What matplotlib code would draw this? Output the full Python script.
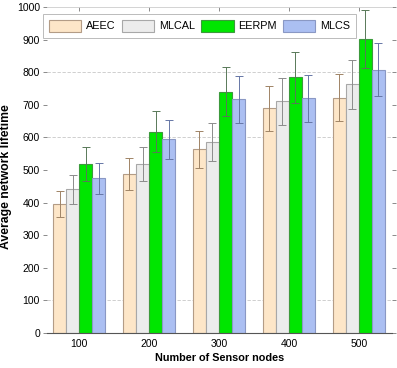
import numpy as np
import matplotlib
matplotlib.use("Agg")
import matplotlib.pyplot as plt

categories = ["100", "200", "300", "400", "500"]
series = ["AEEC", "MLCAL", "EERPM", "MLCS"]
aeec = [396, 487, 564, 690, 722]
mlcal = [441, 518, 586, 711, 763]
eerpm = [518, 618, 740, 785, 902]
mlcs = [474, 594, 717, 720, 808]
aeec_err = [39, 49, 57, 69, 73]
mlcal_err = [44, 53, 57, 72, 75]
eerpm_err = [52, 63, 75, 78, 90]
mlcs_err = [48, 59, 72, 72, 81]
yticks = [0, 100, 200, 300, 400, 500, 600, 700, 800, 900, 1000]
grid_levels = [100, 600, 800]

values = [aeec, mlcal, eerpm, mlcs]
errors = [aeec_err, mlcal_err, eerpm_err, mlcs_err]
fills = ["#fde6c8", "#ececec", "#00e600", "#abbff2"]
edges = ["#b39c86", "#a8a8a8", "#3c9a3c", "#8a98c4"]
ecolors = ["#a08466", "#8c8c8c", "#587858", "#6676a6"]

plt.rcParams['font.family'] = ['Liberation Sans', 'DejaVu Sans']

fig = plt.figure(figsize=(3.97, 3.68), dpi=100)
ax = fig.add_axes([0.118, 0.095, 0.869, 0.886])

x = np.arange(len(categories))
w = 0.186
for i, (v, e) in enumerate(zip(values, errors)):
    pos = x + (i - 1.5) * w
    ax.bar(pos, v, width=w, color=fills[i], edgecolor=edges[i], linewidth=0.8,
           label=series[i], zorder=2)
    ax.errorbar(pos, v, yerr=e, fmt='none', ecolor=ecolors[i], elinewidth=0.7,
                capsize=2.8, capthick=0.7, zorder=3)

for g in grid_levels:
    ax.axhline(g, color='#c8c8c8', lw=0.6, ls=(0, (4, 2)), zorder=1)

ax.set_xlim(-0.46, 4.47)
ax.set_ylim(0, 1000)
ax.set_xticks(x)
ax.set_xticklabels(categories, fontsize=7.5)
ax.set_yticks(yticks)
ax.set_yticklabels([str(t) for t in yticks], fontsize=7.5)

ax.tick_params(axis='x', bottom=False, top=True, direction='in', length=3,
               color='#777777', width=0.6, pad=4)
ax.tick_params(axis='y', left=True, right=True, direction='out', length=3,
               color='#777777', width=0.6, pad=2)

for s in ['left', 'right']:
    ax.spines[s].set_visible(False)
ax.spines['top'].set_color('#cccccc')
ax.spines['top'].set_linewidth(0.6)
ax.spines['bottom'].set_color('#555555')
ax.spines['bottom'].set_linewidth(0.8)

ax.set_xlabel("Number of Sensor nodes", fontsize=7.8, fontweight='bold', labelpad=3)
ax.set_ylabel("Average network lifetime", fontsize=8.8, fontweight='bold')
ax.yaxis.set_label_coords(-0.1, 0.48)

leg = ax.legend(loc='upper left', bbox_to_anchor=(43 / 397, 1 - 14 / 368),
                bbox_transform=fig.transFigure, ncol=4, frameon=True,
                fancybox=False, edgecolor='#bbbbbb', framealpha=1,
                prop={'size': 7.8},
                handlelength=3.0, handleheight=1.3, handletextpad=0.4,
                columnspacing=0.6, borderpad=0.55, borderaxespad=0)
leg.get_frame().set_linewidth(0.7)

fig.savefig("out.png", dpi=100)
